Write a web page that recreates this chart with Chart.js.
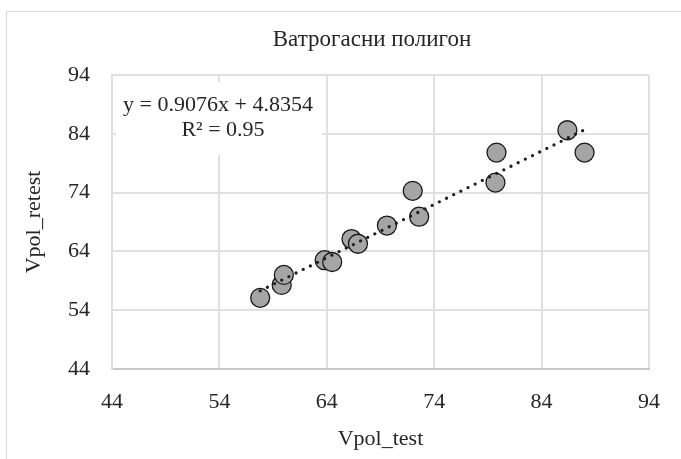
<!DOCTYPE html>
<html>
<head>
<meta charset="utf-8">
<script src="https://cdn.jsdelivr.net/npm/chart.js@4"></script>
<style>
  html, body { margin: 0; padding: 0; background: #fff; }
  #wrap { width: 681px; height: 459px; position: relative; }
</style>
</head>
<body>
<div id="wrap"><canvas id="chart"></canvas></div>
<script>
// values
var testVals   = [57.8, 59.8, 60.0, 63.8, 64.5, 66.3, 66.9, 69.6, 72.0, 72.6, 79.8, 79.7, 86.4, 88.0];
var retestVals = [56.1, 58.3, 60.0, 62.5, 62.2, 66.1, 65.3, 68.4, 74.3, 69.9, 80.8, 75.7, 84.6, 80.8];
var trendX = [57.8, 88.0];
var trendY = [57.3, 84.7];
var tickVals = [44, 54, 64, 74, 84, 94];
var chartTitle = "Ватрогасни полигон";
var eqLines = ["y = 0.9076x + 4.8354", "R² = 0.95"];
var xTitle = "Vpol_test";
var yTitle = "Vpol_retest";

var FONT = "'Liberation Serif', 'Times New Roman', serif";
var textColor = "#262626";

var points = testVals.map((x, i) => ({x: x, y: retestVals[i]}));
var trend = trendX.map((x, i) => ({x: x, y: trendY[i]}));

var setTicks = (scale) => {
  scale.ticks = tickVals.map(v => ({value: v}));
};

var decor = {
  id: "decor",
  beforeDatasetsDraw: (chart) => {
    var ctx = chart.ctx;
    ctx.save();
    // white box behind the trendline equation
    ctx.fillStyle = "#fff";
    ctx.fillRect(116, 82, 206, 73);
    ctx.fillStyle = textColor;
    ctx.font = "22px " + FONT;
    ctx.textAlign = "center";
    ctx.textBaseline = "middle";
    ctx.fillText(eqLines[0], 218, 105);
    ctx.fillText(eqLines[1], 223, 130);
    ctx.restore();
  },
  afterDraw: (chart) => {
    var ctx = chart.ctx;
    ctx.save();
    ctx.fillStyle = textColor;
    ctx.font = "23px " + FONT;
    ctx.textAlign = "center";
    ctx.textBaseline = "middle";
    ctx.fillText(chartTitle, 372, 40);
    ctx.strokeStyle = "#d9d9d9";
    ctx.lineWidth = 1;
    ctx.strokeRect(6.5, 11.5, 700, 500);
    ctx.restore();
  }
};

new Chart(document.getElementById("chart"), {
  type: "scatter",
  data: {
    datasets: [
      {
        type: "line",
        data: trend,
        borderColor: "#1f1f1f",
        borderWidth: 3.3,
        borderDash: [0, 8],
        borderCapStyle: "round",
        pointRadius: 0,
        fill: false,
        showLine: true
      },
      {
        data: points,
        backgroundColor: "#a5a5a5",
        borderColor: "#1a1a1a",
        borderWidth: 1.3,
        pointRadius: 9.5,
        pointHoverRadius: 9.5
      }
    ]
  },
  options: {
    responsive: true,
    maintainAspectRatio: false,
    animation: false,
    devicePixelRatio: 1,
    layout: {padding: {top: 75, right: 32, bottom: 0, left: 0}},
    plugins: {legend: {display: false}, tooltip: {enabled: false}, title: {display: false}},
    scales: {
      x: {
        type: "linear",
        min: 44, max: 94,
        afterBuildTicks: setTicks,
        afterFit: (s) => { s.height = 90; },
        grid: {color: "#e0e0e0", lineWidth: 2, drawTicks: false},
        border: {color: "#c8c8c8", width: 2},
        ticks: {color: textColor, font: {family: FONT, size: 22}, padding: 20},
        title: {display: true, text: xTitle, color: textColor, font: {family: FONT, size: 22}, padding: {top: 0, bottom: 7}}
      },
      y: {
        type: "linear",
        min: 44, max: 94,
        afterBuildTicks: setTicks,
        afterFit: (s) => { s.width = 112; },
        grid: {color: "#e0e0e0", lineWidth: 2, drawTicks: false},
        border: {color: "#e0e0e0", width: 2},
        ticks: {color: textColor, font: {family: FONT, size: 22}, padding: 22},
        title: {display: true, text: yTitle, color: textColor, font: {family: FONT, size: 22}, padding: {top: 21, bottom: 0}}
      }
    }
  },
  plugins: [decor]
});
</script>
</body>
</html>
